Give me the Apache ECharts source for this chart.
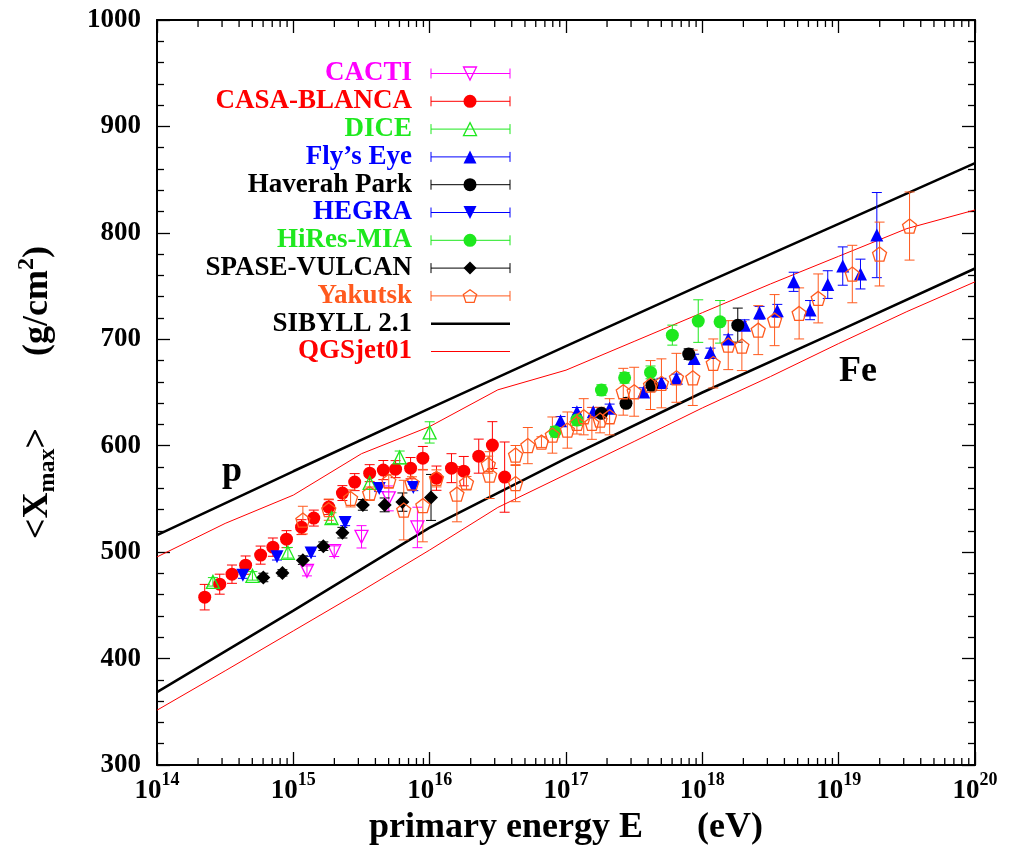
<!DOCTYPE html>
<html><head><meta charset="utf-8">
<script src="https://cdn.jsdelivr.net/npm/echarts@6/dist/echarts.min.js"></script>
<style>html,body{margin:0;padding:0;background:#fff}#c{width:1019px;height:856px}</style>
</head><body><div id="c"></div>
<script>
// x values are log10(E / eV); each point: [log10 E, <Xmax> g/cm^2, error]
const xTicks = [14, 15, 16, 17, 18, 19, 20];
const yTicks = [300, 400, 500, 600, 700, 800, 900, 1000];

const cacti = [[15.10,482.4,4.7],[15.30,500.9,5],[15.50,514.4,10.5],[15.70,550.5,11.7],[15.91,523.2,19]];
const casaBlanca = [[14.35,457.7,12],[14.46,469.9,9.4],[14.55,479.3,8.6],[14.65,487.8,8.6],[14.76,497.2,8.5],[14.85,504.7,8.6],[14.95,512.2,8],[15.06,523.5,7],[15.15,532,7.5],[15.26,542.3,7],[15.36,555.5,7],[15.45,565.8,8],[15.56,574.2,8],[15.66,577.1,9],[15.75,578,8],[15.86,578.9,10],[15.95,588.3,11],[16.05,569.5,11.4],[16.16,578.9,13.6],[16.25,576.1,13.8],[16.36,590.2,16],[16.46,600.6,22],[16.55,570.5,33]];
const dice = [[14.41,472.1,4],[14.70,477.7,4],[14.96,499.4,5],[15.28,532,5],[15.56,565.1,6],[15.78,589,6],[16.00,612.5,10]];
const flysEye = [[16.96,623.4,4],[17.08,631.9,4],[17.20,631.9,4],[17.32,635.1,4],[17.57,650.4,4],[17.70,659.3,4],[17.81,663.3,4],[17.94,682,4],[18.06,687.7,4],[18.19,700.2,4],[18.31,713.3,5],[18.42,724.9,6],[18.55,726.8,6],[18.67,754,9],[18.79,727.4,9],[18.92,751.4,13],[19.03,768.8,18],[19.16,761.3,14],[19.28,797.9,40]];
const haverahPark = [[17.26,630.4,4],[17.44,639.8,4],[17.63,656.7,5],[17.90,686.1,5],[18.26,713.3,16]];
const hegra = [[14.63,478.4,3],[14.88,495.6,3],[15.13,499.1,3],[15.38,527.9,3],[15.63,559.9,3],[15.88,560.8,3]];
const hiresMia = [[16.92,613.1,5],[17.08,624.1,5],[17.26,652.3,5],[17.43,663.8,5],[17.62,668.9,6],[17.78,703.9,9.4],[17.97,717.1,20],[18.13,716.4,20]];
const spaseVulcan = [[14.78,476.2,4],[14.92,480.5,3],[15.07,492.5,4],[15.22,505.6,4],[15.36,518.3,5],[15.51,544.4,5],[15.67,544.4,6.5],[15.80,547.0,8.6],[16.01,551.4,21.6]];
const yakutsk = [[15.07,530.1,13],[15.26,539.9,10],[15.42,550.5,8],[15.56,555.2,6],[15.70,566.7,6],[15.81,539.5,28],[15.87,564.8,6],[15.95,543.7,34],[16.05,569.3,8],[16.20,554.5,26],[16.27,565.1,6],[16.43,582.2,8],[16.44,572.4,22],[16.63,591.2,9],[16.63,564.4,17],[16.72,600.1,17],[16.82,603.4,5],[16.90,610,17],[17.01,614.7,17],[17.08,621,10],[17.13,627.2,17],[17.19,621,15],[17.25,624.1,12],[17.32,627.2,17],[17.42,650.7,22],[17.50,650.7,23],[17.62,657,23],[17.70,658.6,23],[17.81,663.8,23],[17.93,663.8,26],[18.08,677.3,23],[18.19,694.5,23],[18.29,693.6,23],[18.41,708.6,23],[18.53,718,24],[18.71,724.3,24],[18.85,738.4,23],[19.10,761.3,27],[19.30,780.1,30],[19.52,806.4,32]];

const sibyllP = [[14,516],[15,576],[16,635],[17,693.5],[18,751.5],[19,808.5],[20,865.5]];
const sibyllFe = [[14,368.5],[15,445],[16,523],[17,588],[18,650],[19,708],[20,766.5]];
const qgsjetP = [[14,495.5],[14.5,527],[15,553.6],[15.5,592.5],[16,618],[16.5,652.5],[17,671],[17.5,698],[18,725],[18.5,752],[19,778],[19.5,804],[20,821.5]];
const qgsjetFe = [[14,351.5],[14.5,388.5],[15,426],[15.5,463.5],[16,502],[16.5,542],[17,573],[17.5,604],[18,635.5],[18.5,665],[19,696],[19.5,726],[20,754]];

const FONT = '"Liberation Serif","Times New Roman",serif';
const PENTA = 'path://M0,-1 L0.951,-0.309 L0.588,0.809 L-0.588,0.809 L-0.951,-0.309 Z';

const experiments = [
  {name:'CACTI', data:cacti, color:'#ff00ff', kind:'tridown', open:true},
  {name:'CASA-BLANCA', data:casaBlanca, color:'#ff0000', kind:'circle', open:false},
  {name:'DICE', data:dice, color:'#1ee81e', kind:'triup', open:true},
  {name:'Fly\u2019s Eye', data:flysEye, color:'#0000ff', kind:'triup', open:false},
  {name:'Haverah Park', data:haverahPark, color:'#000000', kind:'circle', open:false},
  {name:'HEGRA', data:hegra, color:'#0000ff', kind:'tridown', open:false},
  {name:'HiRes-MIA', data:hiresMia, color:'#1ee81e', kind:'circle', open:false},
  {name:'SPASE-VULCAN', data:spaseVulcan, color:'#000000', kind:'diamond', open:false},
  {name:'Yakutsk', data:yakutsk, color:'#ff5a1e', kind:'penta', open:true}
];
const models = [
  {name:'SIBYLL 2.1', sets:[sibyllP, sibyllFe], color:'#000000', width:2.5},
  {name:'QGSjet01', sets:[qgsjetP, qgsjetFe], color:'#ff0000', width:1}
];

function symbolOf(kind){
  if (kind === 'circle') return {symbol:'circle', size:13, rot:0};
  if (kind === 'triup') return {symbol:'triangle', size:13, rot:0};
  if (kind === 'tridown') return {symbol:'triangle', size:13, rot:180};
  if (kind === 'diamond') return {symbol:'path://M0,-1 L1,0 L0,1 L-1,0 Z', size:14, rot:0};
  return {symbol:PENTA, size:14, rot:0};
}

function errRender(color){
  return function(params, api){
    const x = api.value(0), y = api.value(1), e = api.value(2);
    const t = api.coord([x, y + e]), b = api.coord([x, y - e]);
    const w = 5, st = {stroke:color, lineWidth:1};
    return {type:'group', children:[
      {type:'line', shape:{x1:t[0], y1:t[1], x2:b[0], y2:b[1]}, style:st},
      {type:'line', shape:{x1:t[0]-w, y1:t[1], x2:t[0]+w, y2:t[1]}, style:st},
      {type:'line', shape:{x1:b[0]-w, y1:b[1], x2:b[0]+w, y2:b[1]}, style:st}
    ]};
  };
}

// minor (log) ticks at 2..9 within each decade
const minorTickPos = [];
for (let d = xTicks[0]; d < xTicks[xTicks.length-1]; d++) for (let k = 2; k <= 9; k++) minorTickPos.push([d + Math.log10(k)]);

const series = [];
models.forEach(m => m.sets.forEach(s => series.push({
  type:'line', data:s, symbol:'none', silent:true, z:1,
  lineStyle:{color:m.color, width:m.width}
})));
series.push({
  type:'custom', data:minorTickPos, silent:true, z:5, clip:false,
  encode:{x:0},
  renderItem:function(params, api){
    const v = api.value(0);
    const b = api.coord([v, yTicks[0]]), t = api.coord([v, yTicks[yTicks.length-1]]);
    const st = {stroke:'#000', lineWidth:1.3};
    return {type:'group', children:[
      {type:'line', shape:{x1:b[0], y1:b[1], x2:b[0], y2:b[1]-7}, style:st},
      {type:'line', shape:{x1:t[0], y1:t[1], x2:t[0], y2:t[1]+7}, style:st}
    ]};
  }
});
experiments.forEach(ex => {
  series.push({type:'custom', data:ex.data, encode:{x:0, y:1}, z:2, silent:true, renderItem:errRender(ex.color)});
  const s = symbolOf(ex.kind);
  series.push({
    type:'scatter', data:ex.data.map(p => [p[0], p[1]]), z:3, silent:true,
    symbol:s.symbol, symbolSize:s.size, symbolRotate:s.rot,
    itemStyle:{color: ex.open ? 'rgba(0,0,0,0)' : ex.color, borderColor:ex.color, borderWidth: ex.open ? 1.3 : 0, opacity:1}
  });
});

// legend drawn as graphic elements (text right-aligned, sample on the right)
function legendShape(kind, cx, cy, color, open){
  const style = {fill: open ? 'none' : color, stroke: color, lineWidth: open ? 1.3 : 0};
  const r = 6.5;
  if (kind === 'circle') return {type:'circle', shape:{cx:cx, cy:cy, r:r}, style:style};
  let pts;
  if (kind === 'triup') pts = [[cx, cy-r], [cx+r, cy+r], [cx-r, cy+r]];
  else if (kind === 'tridown') pts = [[cx-r, cy-r], [cx+r, cy-r], [cx, cy+r]];
  else if (kind === 'diamond') pts = [[cx, cy-6.5], [cx+6.5, cy], [cx, cy+6.5], [cx-6.5, cy]];
  else { pts = []; for (let i = 0; i < 5; i++){ const a = -Math.PI/2 + i*2*Math.PI/5; pts.push([cx + 7*Math.cos(a), cy + 7*Math.sin(a) + 0.8]); } }
  return {type:'polygon', shape:{points:pts}, style:style};
}
const graphics = [];
const legRows = experiments.map(e => ({name:e.name, color:e.color, kind:e.kind, open:e.open}))
  .concat(models.map(m => ({name:m.name, color:m.color, width:m.width})));
legRows.forEach((row, i) => {
  const y = 73.5 + i * 27.8;
  graphics.push({type:'text', x:412, y:y, style:{text:row.name, fill: row.name === 'SIBYLL 2.1' ? '#000' : row.color, font:'bold 27px ' + FONT, textAlign:'right', textVerticalAlign:'middle'}, z:10});
  if (row.kind){
    const st = {stroke:row.color, lineWidth:1};
    graphics.push({type:'line', shape:{x1:431, y1:y, x2:510, y2:y}, style:st, z:10});
    graphics.push({type:'line', shape:{x1:431, y1:y-5, x2:431, y2:y+5}, style:st, z:10});
    graphics.push({type:'line', shape:{x1:510, y1:y-5, x2:510, y2:y+5}, style:st, z:10});
    graphics.push(Object.assign(legendShape(row.kind, 470, y, row.color, row.open), {z:11}));
  } else {
    graphics.push({type:'line', shape:{x1:431, y1:y, x2:510, y2:y}, style:{stroke:row.color, lineWidth:row.width}, z:10});
  }
});
graphics.push({type:'text', x:232, y:472, style:{text:'p', font:'bold 36px ' + FONT, fill:'#000', textAlign:'center', textVerticalAlign:'middle'}, z:10});
graphics.push({type:'text', x:858, y:372, style:{text:'Fe', font:'bold 36px ' + FONT, fill:'#000', textAlign:'center', textVerticalAlign:'middle'}, z:10});

const axisLine = {show:true, onZero:false, lineStyle:{color:'#000', width:2}};
const tickStyle = {color:'#000', width:1.3};
const option = {
  animation:false,
  backgroundColor:'#fff',
  grid:{left:157, right:44, top:20, bottom:91, containLabel:false},
  xAxis:[{
    type:'value', min:xTicks[0], max:xTicks[xTicks.length-1], interval:1, position:'bottom',
    axisLine:axisLine, splitLine:{show:false},
    axisTick:{show:true, inside:true, length:13, lineStyle:tickStyle},
    axisLabel:{margin:6, formatter:v => '{b|10}{s|' + v + '}',
      rich:{b:{fontSize:27, fontWeight:'bold', fontFamily:FONT, color:'#000'},
            s:{fontSize:18, fontWeight:'bold', fontFamily:FONT, color:'#000', padding:[0,0,22,0]}}},
    name:'primary energy E      (eV)', nameLocation:'middle', nameGap:40,
    nameTextStyle:{fontSize:36, fontWeight:'bold', fontFamily:FONT, color:'#000'}
  },{
    type:'value', min:xTicks[0], max:xTicks[xTicks.length-1], interval:1, position:'top',
    axisLine:axisLine, splitLine:{show:false}, axisLabel:{show:false},
    axisTick:{show:true, inside:true, length:13, lineStyle:tickStyle}
  }],
  yAxis:[{
    type:'value', min:yTicks[0], max:yTicks[yTicks.length-1], interval:100, position:'left',
    axisLine:axisLine, splitLine:{show:false},
    axisTick:{show:true, inside:true, length:13, lineStyle:tickStyle},
    minorTick:{show:true, splitNumber:5, length:7, lineStyle:tickStyle},
    axisLabel:{margin:16, fontSize:27, fontWeight:'bold', fontFamily:FONT, color:'#000', formatter:v => String(v)},
    name:'{n|<X}{sub|max}{n|>        (g/cm}{sup|2}{n|)}', nameLocation:'middle', nameRotate:90, nameGap:96,
    nameTextStyle:{rich:{
      n:{fontSize:36, fontWeight:'bold', fontFamily:FONT, color:'#000'},
      sub:{fontSize:24, fontWeight:'bold', fontFamily:FONT, color:'#000', padding:[20,0,0,0]},
      sup:{fontSize:24, fontWeight:'bold', fontFamily:FONT, color:'#000', padding:[0,0,22,0]}
    }}
  },{
    type:'value', min:yTicks[0], max:yTicks[yTicks.length-1], interval:100, position:'right',
    axisLine:axisLine, splitLine:{show:false}, axisLabel:{show:false},
    axisTick:{show:true, inside:true, length:13, lineStyle:tickStyle},
    minorTick:{show:true, splitNumber:5, length:7, lineStyle:tickStyle}
  }],
  graphic:graphics,
  series:series
};
const chart = echarts.init(document.getElementById('c'), null, {renderer:'canvas'});
chart.setOption(option);
</script>
</body></html>
